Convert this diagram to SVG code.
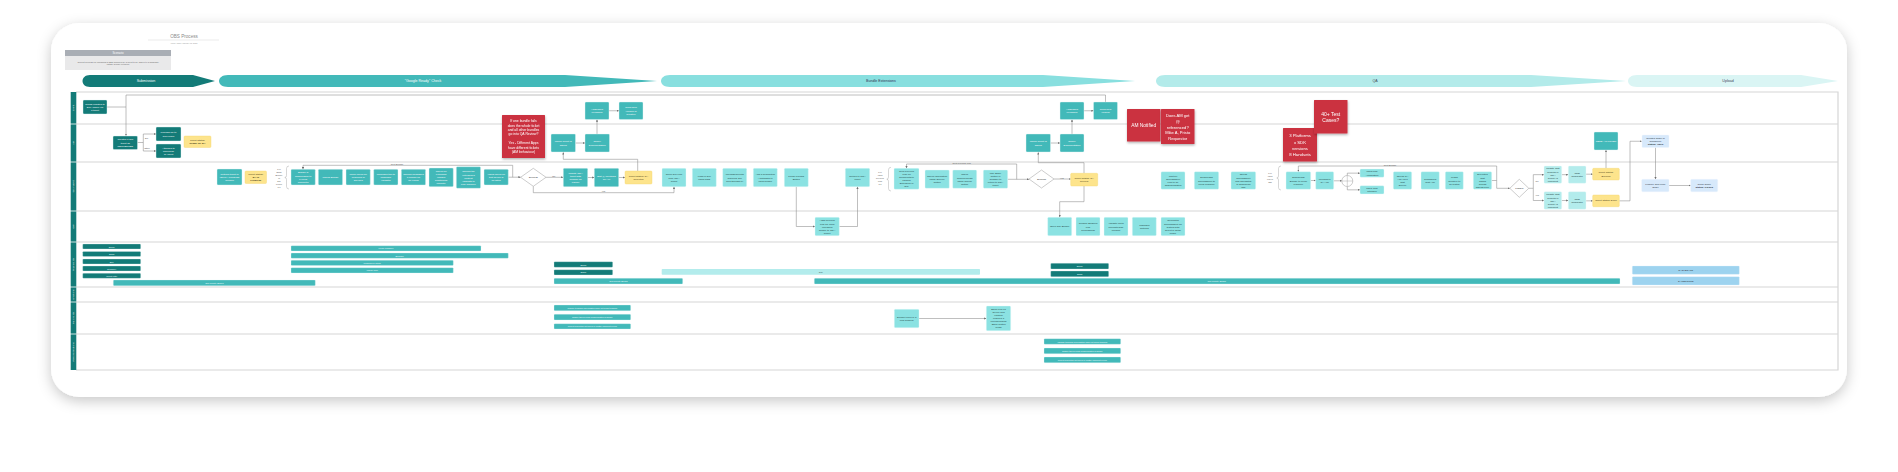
<svg xmlns="http://www.w3.org/2000/svg" width="1898" height="472" viewBox="0 0 1898 472">
<defs>
<filter id="cardsh" x="-5%" y="-10%" width="110%" height="125%"><feDropShadow dx="0" dy="4" stdDeviation="7" flood-color="#000" flood-opacity="0.22"/></filter>
<filter id="rsh" x="-20%" y="-20%" width="140%" height="150%"><feDropShadow dx="0.4" dy="1.4" stdDeviation="1" flood-color="#000" flood-opacity="0.3"/></filter>
<marker id="ah" viewBox="0 0 6 6" refX="6" refY="3" markerWidth="2.2" markerHeight="2.2" markerUnits="userSpaceOnUse" orient="auto"><path d="M0 0 L6 3 L0 6 Z" fill="#6f6f6f"/></marker>
<style>
text{font-family:"Liberation Sans",Arial,sans-serif;text-anchor:middle;dominant-baseline:central;font-size:2.5px}
.n1 rect{fill:#137b78;stroke:#dff2f2;stroke-width:.4}
.n1 text{fill:#fff}
.n2 rect{fill:#42b9b9;stroke:#e2f6f6;stroke-width:.4}
.n2 text{fill:#fff}
.n3 rect{fill:#8be2e2;stroke:#e6f9f9;stroke-width:.4}
.n3 text{fill:#234444}
.n4 rect{fill:#b3ecec;stroke:#eafafa;stroke-width:.4}
.n4 text{fill:#234444}
.ny rect{fill:#fde48c;stroke:#f5d670;stroke-width:.4}
.ny text{fill:#4a3f1a}
.nb rect{fill:#d7e9fb;stroke:#eef5fd;stroke-width:.4}
.nb text{fill:#2b3440}
.nr rect{fill:#cb3341}
.nr text{fill:#fff}
.dm polygon,.dm circle{fill:#fff;stroke:#9a9a9a;stroke-width:.5}
.dm text{fill:#333;font-size:2.4px}
.bar1 rect{fill:#137b78;stroke:#dff2f2;stroke-width:.3}
.bar1 text{fill:#e8ffff;font-size:2.3px}
.bar2 rect{fill:#42b9b9;stroke:#e2f6f6;stroke-width:.3}
.bar2 text{fill:#e8ffff;font-size:2.3px}
.bar3 rect{fill:#b3ecec}
.bar3 text{fill:#355;font-size:2.3px}
.bar4 rect{fill:#9dd3ef;stroke:#d8eefa;stroke-width:.3}
.bar4 text{fill:#334;font-size:2.3px}
.conn path{fill:none;stroke:#8a8a8a;stroke-width:.55}
.conn path.a{marker-end:url(#ah)}
.lbl{fill:#555;font-size:2.3px}
.lane{stroke:#d6d6d6;stroke-width:1.2;fill:none}
.lh rect{fill:#137b78}
.lh text{fill:#fff;font-size:2.4px}
.ph text{font-size:3.6px}
.brace{fill:none;stroke:#9a9a9a;stroke-width:.4}
</style>
</defs>
<rect width="1898" height="472" fill="#ffffff"/>
<rect x="51" y="23" width="1796" height="374" rx="28" fill="#ffffff" filter="url(#cardsh)"/>

<g id="title">
<text x="184" y="36" style="font-size:4.6px;fill:#8a8a8a">OBS Process</text>
<line x1="148" y1="40" x2="219" y2="40" stroke="#dedede" stroke-width=".6"/>
<text x="184" y="42.6" style="font-size:1.9px;fill:#9a9a9a">Lucid Admin  |  January 12, 2022</text>
</g>
<g id="scenario">
<rect x="65" y="50" width="106" height="6" fill="#a9aeb5"/>
<text x="118" y="53" style="font-size:2.8px;fill:#fff">Scenario</text>
<rect x="65" y="56" width="106" height="14" fill="#e9e9ea"/>
<text x="118" y="61.5" style="font-size:2.2px;fill:#666">Current process for uploading a OBC supplied by a client to be added to a language<tspan x="118" dy="2.9">(within Google network)</tspan></text>
</g>

<g id="phases" class="ph">
<g id="ph1"><path d="M90 75 L193 75 L215 81 L193 87 L90 87 C80 87 80 75 90 75 Z" fill="#137b78"/><text x="146" y="81" fill="#fff">Submission</text></g>
<g id="ph2"><path d="M228 75 L565 75 L657 81 L565 87 L228 87 C216 87 216 75 228 75 Z" fill="#42b9b9"/><text x="423" y="81" fill="#fff">"Google Ready" Check</text></g>
<g id="ph3"><path d="M670 75 L1043 75 L1135 81 L1043 87 L670 87 C658 87 658 75 670 75 Z" fill="#88dfdf"/><text x="881" y="81" fill="#335">Bundle Extensions</text></g>
<g id="ph4"><path d="M1165 75 L1531 75 L1626 81 L1531 87 L1165 87 C1153 87 1153 75 1165 75 Z" fill="#b3ebea"/><text x="1375" y="81" fill="#445">QA</text></g>
<g id="ph5"><path d="M1637 75 L1801 75 L1838 81 L1801 87 L1637 87 C1625 87 1625 75 1637 75 Z" fill="#daf5f4"/><text x="1728" y="81" fill="#445">Upload</text></g>
</g>

<g id="lanes">
<path class="lane" d="M76 92 H1838 V370 H76"/>
<path class="lane" d="M76 124 H1838 M76 162 H1838 M76 211 H1838 M76 242 H1838 M76 287 H1838 M76 302 H1838 M76 334 H1838"/>
<g class="lh">
<rect x="70.7" y="92" width="5.6" height="31.6"/><text transform="translate(73.5 108) rotate(-90)">Client</text>
<rect x="70.7" y="124.4" width="5.6" height="37.2"/><text transform="translate(73.5 143) rotate(-90)">AM</text>
<rect x="70.7" y="162.4" width="5.6" height="48.2"/><text transform="translate(73.5 186.5) rotate(-90)">QA Analyst</text>
<rect x="70.7" y="211.4" width="5.6" height="30.2"/><text transform="translate(73.5 226.5) rotate(-90)">OIP</text>
<rect x="70.7" y="242.4" width="5.6" height="44.2"/><text transform="translate(73.5 264.5) rotate(-90)">Touchpoints</text>
<rect x="70.7" y="287.4" width="5.6" height="14.2"/><text transform="translate(73.5 294.5) rotate(-90)">Emotions</text>
<rect x="70.7" y="302.4" width="5.6" height="31.2"/><text transform="translate(73.5 318) rotate(-90)">Pain points</text>
<rect x="70.7" y="334.4" width="5.6" height="35.6"/><text transform="translate(73.5 352) rotate(-90)">Possible solutions</text>
</g>
</g>

<g id="connectors" class="conn">
<path d="M106.7 107 H126"/>
<path class="a" d="M1105.5 102 V95 H126 V135.7"/>
<path class="a" d="M137.5 142.5 H143.3 V134 H156"/>
<path class="a" d="M143.3 142.5 V151 H156"/>
<path class="a" d="M508.3 177.2 H520.6"/>
<path class="a" d="M512.7 177.2 V165.3 H303 V169.3"/>
<path class="a" d="M546 177.3 H563.3"/>
<path class="a" d="M587.7 177.5 H594.3"/>
<path class="a" d="M618.7 177.5 H625"/>
<path class="a" d="M637.7 171 V159.3 H563.3 V152.3"/>
<path class="a" d="M575.5 143 H585"/>
<path class="a" d="M597 134 V119.5"/>
<path class="a" d="M609 110.75 H619"/>
<path class="a" d="M533.3 186.3 V192.7 H674 V186.7"/>
<path class="a" d="M796.3 186.7 V226.5 H815"/>
<path class="a" d="M839.3 226.5 H857.5 V186.7"/>
<path class="a" d="M1007.7 179.3 H1029"/>
<path class="a" d="M1016.7 179.3 V164 H906.5 V168.3"/>
<path class="a" d="M1054 179 H1070.7"/>
<path class="a" d="M1084 173.3 V162.7 H1038.3 V152.3"/>
<path class="a" d="M1084 186 V201.7 H1059.7 V217.3"/>
<path class="a" d="M1050.5 143 H1060"/>
<path class="a" d="M1072 134 V119.5"/>
<path class="a" d="M1084 110.75 H1093.5"/>
<path class="a" d="M1310.7 180.5 H1315.7"/>
<path class="a" d="M1333.7 180.8 H1341.8"/>
<path class="a" d="M1347.3 175.5 V173.15 H1360"/>
<path class="a" d="M1347.3 186.5 V189.85 H1360"/>
<path class="a" d="M1491.7 180.5 H1496.7 V188.3 H1509.8"/>
<path class="a" d="M1496.7 180.5 V166 H1298.35 V171.7"/>
<path class="a" d="M1528.8 188.3 H1533.3 V174.65 H1544"/>
<path class="a" d="M1533.3 188.3 V200.5 H1544"/>
<path class="a" d="M1561.7 174.65 H1568.3"/>
<path class="a" d="M1561.7 200.5 H1568.3"/>
<path class="a" d="M1586 174.2 H1592.7"/>
<path class="a" d="M1586 200.85 H1592.7"/>
<path class="a" d="M1606 168.3 V150"/>
<path class="a" d="M1619.3 200.85 H1630 V141.25 H1641.7"/>
<path class="a" d="M1655.5 147.5 V179.3"/>
<path class="a" d="M1669 185.5 H1690.7"/>
<path class="a" d="M919 318.5 H986.3"/>
</g>

<g id="labels">
<text class="lbl" x="146.5" y="137.6">ZIP</text>
<text class="lbl" x="147" y="147.6">Other</text>
<text class="lbl" x="397" y="164">Next Bundle</text>
<text class="lbl" x="553.8" y="176">No</text>
<text class="lbl" x="603.3" y="191.3">Yes</text>
<text class="lbl" x="961.7" y="162.8">Next Preview Link</text>
<text class="lbl" x="1061.7" y="177.8">Yes</text>
<text class="lbl" x="1390" y="164.8">Next Bundle</text>
<text class="lbl" x="1537" y="181">No</text>
<text class="lbl" x="1537" y="194.5">Yes</text>
<text class="lbl" x="279" y="168.5" style="font-size:2.2px">For<tspan x="279" dy="3">Each</tspan><tspan x="279" dy="3">Bundle</tspan><tspan x="279" dy="3">in</tspan><tspan x="279" dy="3">ZIP</tspan><tspan x="279" dy="3">Folder</tspan><tspan x="279" dy="3">1-7</tspan></text>
<text class="lbl" x="880" y="172" style="font-size:2.2px">For<tspan x="880" dy="3">each</tspan><tspan x="880" dy="3">Preview</tspan><tspan x="880" dy="3">Link</tspan><tspan x="880" dy="3">1-7</tspan></text>
<text class="lbl" x="1270" y="173" style="font-size:2.2px">For<tspan x="1270" dy="3">each</tspan><tspan x="1270" dy="3">row in</tspan><tspan x="1270" dy="3">Tab</tspan></text>
<path class="brace" d="M289 166 Q286.5 166 286.5 168.5 V175.5 Q286.5 177.5 284.8 177.5 Q286.5 177.5 286.5 179.5 V186.5 Q286.5 189 289 189"/>
<path class="brace" d="M891 167.3 Q888.5 167.3 888.5 169.8 V177 Q888.5 179.2 886.8 179.2 Q888.5 179.2 888.5 181.4 V188.5 Q888.5 191 891 191"/>
<path class="brace" d="M1281 166 Q1278.5 166 1278.5 168.5 V176 Q1278.5 178 1276.8 178 Q1278.5 178 1278.5 180 V187.5 Q1278.5 190 1281 190"/>
</g>

<g id="n-client1" class="n1"><rect x="83" y="100" width="24" height="14" rx="1"/><text x="95" y="104">Sends updates to<tspan x="95" dy="3">EIP / Office via</tspan><tspan x="95" dy="3">a ticket</tspan></text></g>
<g id="n-addr1" class="n2"><rect x="585" y="102" width="24" height="17.5" rx="1"/><text x="597" y="109.25">Addresses<tspan x="597" dy="3">Feedback</tspan></text></g>
<g id="n-send1" class="n2"><rect x="619" y="102" width="24" height="17.5" rx="1"/><text x="631" y="107.75">Send New<tspan x="631" dy="3">Version of</tspan><tspan x="631" dy="3">Creative</tspan></text></g>
<g id="n-addr2" class="n2"><rect x="1060" y="102" width="24" height="17.5" rx="1"/><text x="1072" y="109.25">Addresses<tspan x="1072" dy="3">Feedback</tspan></text></g>
<g id="n-send2" class="n2"><rect x="1093.5" y="102" width="24" height="17.5" rx="1"/><text x="1105.5" y="109.25">Send New<tspan x="1105.5" dy="3">Version</tspan></text></g>

<g id="n-jira" class="n1"><rect x="113" y="136" width="24.5" height="13.5" rx="1"/><text x="125.25" y="139.75">Creates a Jira<tspan x="125.25" dy="3">ticket as</tspan><tspan x="125.25" dy="3">REQUESTED</tspan></text></g>
<g id="n-upl" class="n1"><rect x="156" y="127" width="25" height="14" rx="1"/><text x="168.5" y="132.5">Uploads file to<tspan x="168.5" dy="3">Jira Folder</tspan></text></g>
<g id="n-att" class="n1"><rect x="156" y="144" width="25" height="14" rx="1"/><text x="168.5" y="148">Attaches to<tspan x="168.5" dy="3">wiki/email</tspan><tspan x="168.5" dy="3">by client</tspan></text></g>
<g id="n-ready" class="ny"><rect x="184" y="136" width="27" height="11.5" rx="1"/><text x="197.5" y="140.25">Ticket Status:<tspan x="197.5" dy="3" font-weight="bold">Ready for QA</tspan></text></g>

<g id="n-red1" class="nr" filter="url(#rsh)"><rect x="502" y="115" width="43" height="43" rx=".5"/><text x="523.5" y="121.1" style="font-size:3.4px">If one bundle fails<tspan x="523.5" dy="4.4">does the whole ticket</tspan><tspan x="523.5" dy="4.4">and all other bundles</tspan><tspan x="523.5" dy="4.4">go into QA Review?</tspan><tspan x="523.5" dy="8.8">Yes - Different Apps</tspan><tspan x="523.5" dy="4.4">have different tickets</tspan><tspan x="523.5" dy="4.4">(AM behaviour)</tspan></text></g>

<g id="n-inform1" class="n2"><rect x="551" y="134" width="24.5" height="18" rx="1"/><text x="563.25" y="141.5">Inform Client of<tspan x="563.25" dy="3">Issues</tspan></text></g>
<g id="n-supply1" class="n2"><rect x="585" y="134" width="24.5" height="18" rx="1"/><text x="597.25" y="141.5">Supply<tspan x="597.25" dy="3">Documentation</tspan></text></g>
<g id="n-inform2" class="n2"><rect x="1026" y="134" width="24.5" height="18" rx="1"/><text x="1038.25" y="141.5">Inform Client of<tspan x="1038.25" dy="3">Issues</tspan></text></g>
<g id="n-supply2" class="n2"><rect x="1060" y="134" width="24" height="18" rx="1"/><text x="1072" y="141.5">Supply<tspan x="1072" dy="3">Documentation</tspan></text></g>

<g id="n-red-am" class="nr" filter="url(#rsh)"><rect x="1127" y="109" width="33.5" height="32.5" rx=".5"/><text x="1143.75" y="125.25" style="font-size:4.8px">AM Notified</text></g>
<g id="n-red-does" class="nr" filter="url(#rsh)"><rect x="1161" y="109" width="33.5" height="35" rx=".5"/><text x="1177.75" y="115.5" style="font-size:4.1px">Does AM get<tspan x="1177.75" dy="5.5">@</tspan><tspan x="1177.75" dy="5.5">referenced?</tspan><tspan x="1177.75" dy="5.5">Mike A, Pristo</tspan><tspan x="1177.75" dy="5.5">Requestor</tspan></text></g>
<g id="n-red-3p" class="nr" filter="url(#rsh)"><rect x="1283" y="128" width="34" height="33.5" rx=".5"/><text x="1300" y="135.75" style="font-size:4.3px">3 Platforms<tspan x="1300" dy="6">x SDK</tspan><tspan x="1300" dy="6">versions</tspan><tspan x="1300" dy="6">8 Handsets</tspan></text></g>
<g id="n-red-40" class="nr" filter="url(#rsh)"><rect x="1314" y="100" width="33.5" height="33.5" rx=".5"/><text x="1330.75" y="113.5" style="font-size:5px">40+ Test<tspan x="1330.75" dy="6.5">Cases?</tspan></text></g>

<g id="n-email-ac" class="n2"><rect x="1594" y="132" width="24" height="18" rx="1"/><text x="1606" y="141">SEND AC TICKET</text></g>
<g id="n-create-order" class="nb"><rect x="1642" y="135" width="27" height="12.5" rx="1"/><text x="1655.5" y="138.25">Creates Order in<tspan x="1655.5" dy="3">Salesforce</tspan><tspan x="1655.5" dy="3" font-weight="bold">Status: Open</tspan></text></g>

<g id="n-returns" class="n2"><rect x="217" y="169" width="25" height="16" rx="1"/><text x="229.5" y="174">Returns ticket to<tspan x="229.5" dy="3">'Open' / 'Progress'</tspan><tspan x="229.5" dy="3">Column</tspan></text></g>
<g id="n-qaip" class="ny"><rect x="245" y="171" width="21.5" height="12.5" rx="1"/><text x="255.75" y="174.25">Ticket Status:<tspan x="255.75" dy="3" font-weight="bold">QA In</tspan><tspan x="255.75" dy="3" font-weight="bold">Progress</tspan></text></g>

<g id="n-l1a" class="n2"><rect x="291" y="169.3" width="24.3" height="15.7" rx="1"/><text x="303.15" y="172.65">Bundle is<tspan x="303.15" dy="3">downloaded to</tspan><tspan x="303.15" dy="3">a Local</tspan><tspan x="303.15" dy="3">Computer</tspan></text></g>
<g id="n-l1b" class="n2"><rect x="318.3" y="169.3" width="24.3" height="15.7" rx="1"/><text x="330.45" y="177.15">Unzips Bundle</text></g>
<g id="n-l1c" class="n2"><rect x="346" y="169.3" width="24.3" height="15.7" rx="1"/><text x="358.15" y="174.15">Unzip check for<tspan x="358.15" dy="3">problems in</tspan><tspan x="358.15" dy="3">ZIP files</tspan></text></g>
<g id="n-l1d" class="n2"><rect x="373.7" y="169.3" width="24.3" height="15.7" rx="1"/><text x="385.85" y="174.15">Launches tool to<tspan x="385.85" dy="3">Unbundle</tspan><tspan x="385.85" dy="3">Validator</tspan></text></g>
<g id="n-l1e" class="n2"><rect x="401.3" y="169.3" width="24.3" height="15.7" rx="1"/><text x="413.45" y="174.15">Checks messages<tspan x="413.45" dy="3">&amp; bundle for</tspan><tspan x="413.45" dy="3">SL errors</tspan></text></g>
<g id="n-l1f" class="n2"><rect x="429" y="168" width="24.3" height="18.7" rx="1"/><text x="441.15" y="171.35">Check for<tspan x="441.15" dy="3">extension</tspan><tspan x="441.15" dy="3">images</tspan><tspan x="441.15" dy="3">functioning</tspan><tspan x="441.15" dy="3">correctly</tspan></text></g>
<g id="n-l1g" class="n2"><rect x="456.3" y="166.7" width="24.3" height="21.6" rx="1"/><text x="468.45" y="171.5">Checks the<tspan x="468.45" dy="3">extension's</tspan><tspan x="468.45" dy="3">content</tspan><tspan x="468.45" dy="3">(submits to</tspan><tspan x="468.45" dy="3">Play Tracker)</tspan></text></g>
<g id="n-l1h" class="n2"><rect x="484" y="169.3" width="24.3" height="15.7" rx="1"/><text x="496.15" y="174.15">Visual check on<tspan x="496.15" dy="3">test device is</tspan><tspan x="496.15" dy="3">as listed</tspan></text></g>
<g id="n-success1" class="dm"><polygon points="520.6,177.3 533.3,168.3 546,177.3 533.3,186.3"/><text x="533.3" y="177.3">Success</text></g>

<g id="n-update-jira" class="n2"><rect x="563.3" y="168.3" width="24.4" height="18.4" rx="1"/><text x="575.5" y="173">Update JIRA<tspan x="575.5" dy="3">ticket with</tspan><tspan x="575.5" dy="3">Reason for</tspan><tspan x="575.5" dy="3">Failure</tspan></text></g>
<g id="n-edit" class="n2"><rect x="594.3" y="168.3" width="24.4" height="18.4" rx="1"/><text x="606.5" y="176">Edit @ mentions<tspan x="606.5" dy="3">for AM</tspan></text></g>
<g id="n-rejected" class="ny"><rect x="625" y="171" width="27" height="13" rx="1"/><text x="638.5" y="176">Ticket Status: QA<tspan x="638.5" dy="3">Rejected</tspan></text></g>

<g id="n-open-oip" class="n3"><rect x="662" y="168.3" width="24" height="18.4" rx="1"/><text x="674" y="174.5">Open OIP Link<tspan x="674" dy="3">from JIRA</tspan><tspan x="674" dy="3">Ticket</tspan></text></g>
<g id="n-login" class="n3"><rect x="692.3" y="168.3" width="24" height="18.4" rx="1"/><text x="704.3" y="176">Logs in OIP<tspan x="704.3" dy="3">using SSO</tspan></text></g>
<g id="n-uploads" class="n3"><rect x="722.7" y="168.3" width="24" height="18.4" rx="1"/><text x="734.7" y="174.5">Uploads/Selects<tspan x="734.7" dy="3">Supplied ZIP</tspan><tspan x="734.7" dy="3">files through UI</tspan></text></g>
<g id="n-desc" class="n3"><rect x="753.3" y="168.3" width="24" height="18.4" rx="1"/><text x="765.3" y="174.5">Add a description<tspan x="765.3" dy="3">/ metadata to</tspan><tspan x="765.3" dy="3">each bundle</tspan></text></g>
<g id="n-press" class="n3"><rect x="784.3" y="168.3" width="24" height="18.4" rx="1"/><text x="796.3" y="176">Press 'Upload'<tspan x="796.3" dy="3">Button</tspan></text></g>
<g id="n-adds" class="n3"><rect x="815" y="217.3" width="24.3" height="18.4" rx="1"/><text x="827.15" y="220.5">Adds Preview<tspan x="827.15" dy="3">Link for each</tspan><tspan x="827.15" dy="3">uploaded</tspan><tspan x="827.15" dy="3">bundle to JIRA</tspan><tspan x="827.15" dy="3">Ticket</tspan></text></g>
<g id="n-return" class="n3"><rect x="845.3" y="168.3" width="24.4" height="18.4" rx="1"/><text x="857.5" y="176">Return to JIRA<tspan x="857.5" dy="3">ticket</tspan></text></g>
<g id="n-l2a" class="n3"><rect x="894" y="168.3" width="25" height="21" rx="1"/><text x="906.5" y="171.3">Click Preview<tspan x="906.5" dy="3">Link on</tspan><tspan x="906.5" dy="3">Comments to</tspan><tspan x="906.5" dy="3">Launch</tspan><tspan x="906.5" dy="3">Extension in</tspan><tspan x="906.5" dy="3">OIP</tspan></text></g>
<g id="n-l2b" class="n3"><rect x="925" y="170" width="24.3" height="18.3" rx="1"/><text x="937.15" y="176.15">Check information<tspan x="937.15" dy="3">using 'Device'</tspan><tspan x="937.15" dy="3">button</tspan></text></g>
<g id="n-l2c" class="n3"><rect x="952.7" y="170" width="24" height="18.3" rx="1"/><text x="964.7" y="174.65">Check<tspan x="964.7" dy="3">Requirements</tspan><tspan x="964.7" dy="3">using 'Specs'</tspan><tspan x="964.7" dy="3">button</tspan></text></g>
<g id="n-l2d" class="n3"><rect x="983.3" y="170" width="24.4" height="18.3" rx="1"/><text x="995.5" y="173.15">Use 'Back'<tspan x="995.5" dy="3">button in</tspan><tspan x="995.5" dy="3">browser to</tspan><tspan x="995.5" dy="3">return to JIRA</tspan><tspan x="995.5" dy="3">ticket</tspan></text></g>
<g id="n-success2" class="dm"><polygon points="1029,179 1041.5,170 1054,179 1041.5,188"/><text x="1041.5" y="179">Success</text></g>
<g id="n-review" class="ny"><rect x="1070.7" y="173.3" width="27" height="12.7" rx="1"/><text x="1084.2" y="178.15">Ticket Status: QA<tspan x="1084.2" dy="3">Review</tspan></text></g>

<g id="n-open-bundle" class="n3"><rect x="1047.7" y="217.3" width="24" height="18.4" rx="1"/><text x="1059.7" y="226.5">Open OIP Bundle</text></g>
<g id="n-confirm" class="n3"><rect x="1076" y="217.3" width="24" height="18.4" rx="1"/><text x="1088" y="223.5">Confirm Enabled<tspan x="1088" dy="3">Link</tspan><tspan x="1088" dy="3">Permissions</tspan></text></g>
<g id="n-validate" class="n3"><rect x="1104" y="217.3" width="24" height="18.4" rx="1"/><text x="1116" y="223.5">Validate Meta<tspan x="1116" dy="3">populate/SSL</tspan><tspan x="1116" dy="3">present</tspan></text></g>
<g id="n-manages" class="n3"><rect x="1132.3" y="217.3" width="24" height="18.4" rx="1"/><text x="1144.3" y="225">Manages<tspan x="1144.3" dy="3">Returns</tspan></text></g>
<g id="n-generates" class="n3"><rect x="1161" y="217.3" width="24" height="18.4" rx="1"/><text x="1173" y="220.5">Generates<tspan x="1173" dy="3">Spreadsheet for</tspan><tspan x="1173" dy="3">testers with</tspan><tspan x="1173" dy="3">select in detail</tspan><tspan x="1173" dy="3">folder</tspan></text></g>

<g id="n-wait" class="n3"><rect x="1161" y="171.7" width="24" height="17.6" rx="1"/><text x="1173" y="176">Wait for<tspan x="1173" dy="3">Spreadsheet</tspan><tspan x="1173" dy="3">Link to be</tspan><tspan x="1173" dy="3">added/updated</tspan></text></g>
<g id="n-download-sheet" class="n3"><rect x="1194.3" y="171.7" width="24.4" height="17.6" rx="1"/><text x="1206.5" y="177.5">Downloads<tspan x="1206.5" dy="3">Spreadsheet to</tspan><tspan x="1206.5" dy="3">Local Machine</tspan></text></g>
<g id="n-opens-sheet" class="n3"><rect x="1231" y="171.7" width="24.7" height="17.6" rx="1"/><text x="1243.35" y="174.5">Opens<tspan x="1243.35" dy="3">Spreadsheet</tspan><tspan x="1243.35" dy="3">and Navigates</tspan><tspan x="1243.35" dy="3">to Download</tspan><tspan x="1243.35" dy="3">Tab</tspan></text></g>
<g id="n-l3a" class="n3"><rect x="1286" y="171.7" width="24.7" height="17.6" rx="1"/><text x="1298.35" y="177.5">Downloads<tspan x="1298.35" dy="3">Bundle to Local</tspan><tspan x="1298.35" dy="3">Machine</tspan></text></g>
<g id="n-l3b" class="n3"><rect x="1315.7" y="171.7" width="18" height="17.6" rx="1"/><text x="1324.7" y="179">Uploads to<tspan x="1324.7" dy="3">QA App</tspan></text></g>
<g id="n-gate" class="dm"><circle cx="1347.3" cy="181" r="5.5"/><path d="M1341.8 181 H1352.8 M1347.3 175.5 V186.5" stroke="#9a9a9a" stroke-width=".4"/></g>
<g id="n-mac" class="n3"><rect x="1360" y="169" width="24" height="8.3" rx="1"/><text x="1372" y="171.75">Uses Mac<tspan x="1372" dy="2.8">Automation</tspan></text></g>
<g id="n-web" class="n3"><rect x="1360" y="185.7" width="24" height="8.3" rx="1"/><text x="1372" y="188.45">Uses Web<tspan x="1372" dy="2.8">Interface</tspan></text></g>
<g id="n-l3d" class="n3"><rect x="1393.3" y="171.7" width="18.4" height="17.6" rx="1"/><text x="1402.5" y="176">Opens QA<tspan x="1402.5" dy="3">App via a</tspan><tspan x="1402.5" dy="3">Test</tspan><tspan x="1402.5" dy="3">Device</tspan></text></g>
<g id="n-l3e" class="n3"><rect x="1421" y="171.7" width="18.3" height="17.6" rx="1"/><text x="1430.15" y="179">Configures<tspan x="1430.15" dy="3">Test App</tspan></text></g>
<g id="n-l3f" class="n3"><rect x="1445.3" y="171.7" width="18" height="17.6" rx="1"/><text x="1454.3" y="177.5">Loads<tspan x="1454.3" dy="3">Creative to</tspan><tspan x="1454.3" dy="3">be tested</tspan></text></g>
<g id="n-l3g" class="n3"><rect x="1473.3" y="171.7" width="18.4" height="17.6" rx="1"/><text x="1482.5" y="174.5">Executes<tspan x="1482.5" dy="3">Test</tspan><tspan x="1482.5" dy="3">Cases</tspan><tspan x="1482.5" dy="3">across</tspan><tspan x="1482.5" dy="3">SDK/Device</tspan></text></g>
<g id="n-passed" class="dm"><polygon points="1509.8,188.3 1519.3,179.3 1528.8,188.3 1519.3,197.3"/><text x="1519.3" y="188.3">Passed</text></g>

<g id="n-upd-no" class="n4"><rect x="1544" y="166" width="17.7" height="17.3" rx="1"/><text x="1552.85" y="168.65">Update Test<tspan x="1552.85" dy="3">Results in</tspan><tspan x="1552.85" dy="3">JIRA</tspan><tspan x="1552.85" dy="3">Ticket/Ad</tspan><tspan x="1552.85" dy="3">comment</tspan></text></g>
<g id="n-upd-yes" class="n4"><rect x="1544" y="191.7" width="17.7" height="17.6" rx="1"/><text x="1552.85" y="194.5">Update Test<tspan x="1552.85" dy="3">Results in</tspan><tspan x="1552.85" dy="3">JIRA</tspan><tspan x="1552.85" dy="3">Ticket/Ad</tspan><tspan x="1552.85" dy="3">comment</tspan></text></g>
<g id="n-tags1" class="n4"><rect x="1568.3" y="166" width="17.7" height="17.3" rx="1"/><text x="1577.15" y="173.15">Tags<tspan x="1577.15" dy="3">Requester</tspan></text></g>
<g id="n-tags2" class="n4"><rect x="1568.3" y="191.7" width="17.7" height="17.6" rx="1"/><text x="1577.15" y="199">Tags<tspan x="1577.15" dy="3">Requester</tspan></text></g>
<g id="n-blocked" class="ny"><rect x="1592.7" y="168.3" width="26.6" height="11.7" rx="1"/><text x="1606" y="172.65">Ticket Status:<tspan x="1606" dy="3">Blocked</tspan></text></g>
<g id="n-done" class="ny"><rect x="1592.7" y="195" width="26.6" height="11.7" rx="1"/><text x="1606" y="200.85">Ticket Status: Done</text></g>
<g id="n-finalize" class="nb"><rect x="1641.7" y="179.3" width="27.3" height="12.4" rx="1"/><text x="1655.35" y="184">Finalize and Fulfill<tspan x="1655.35" dy="3">Order</tspan></text></g>
<g id="n-close" class="nb"><rect x="1690.7" y="179.3" width="27" height="12.4" rx="1"/><text x="1704.2" y="184">Close Order<tspan x="1704.2" dy="3" font-weight="bold">Status: Closed</tspan></text></g>

<g id="touchpoints">
<g class="bar1"><rect x="82.7" y="244" width="58" height="5" rx=".8"/><text x="111.7" y="246.5">Email</text></g>
<g class="bar1"><rect x="82.7" y="251.5" width="58" height="5" rx=".8"/><text x="111.7" y="254">Slack</text></g>
<g class="bar1"><rect x="82.7" y="259" width="58" height="5" rx=".8"/><text x="111.7" y="261.5">Box</text></g>
<g class="bar1"><rect x="82.7" y="266" width="58" height="5" rx=".8"/><text x="111.7" y="268.5">Dropbox</text></g>
<g class="bar1"><rect x="82.7" y="273.3" width="58" height="5" rx=".8"/><text x="111.7" y="275.8">Client Intel</text></g>
<g class="bar2"><rect x="113.3" y="280" width="202" height="5.7" rx=".8"/><text x="214.3" y="282.85">Jira Priority Board</text></g>
<g class="bar2"><rect x="291" y="245.7" width="190" height="5.3" rx=".8"/><text x="386" y="248.35">Local Machine</text></g>
<g class="bar2"><rect x="291" y="253" width="217.3" height="5.3" rx=".8"/><text x="399.65" y="255.65">Browser</text></g>
<g class="bar2"><rect x="291" y="260.3" width="162.3" height="5.3" rx=".8"/><text x="372.15" y="262.95">Unarchiver Tools</text></g>
<g class="bar2"><rect x="291" y="267.7" width="162.3" height="5.3" rx=".8"/><text x="372.15" y="270.35">Image Tool</text></g>
<g class="bar1"><rect x="554" y="261.7" width="58.7" height="5.6" rx=".8"/><text x="583.35" y="264.5">Email</text></g>
<g class="bar1"><rect x="554" y="269.7" width="58.7" height="5.3" rx=".8"/><text x="583.35" y="272.35">Slack</text></g>
<g class="bar2"><rect x="554" y="278.3" width="128.7" height="5.7" rx=".8"/><text x="618.35" y="281.15">Jira Priority Board</text></g>
<g class="bar3"><rect x="661.7" y="269" width="318.3" height="5.7" rx=".8"/><text x="820.85" y="271.85">OIP</text></g>
<g class="bar2"><rect x="814.3" y="278.3" width="805.7" height="5.7" rx=".8"/><text x="1216.7" y="281.15">Jira Priority Board</text></g>
<g class="bar1"><rect x="1050.7" y="263.3" width="58" height="5.7" rx=".8"/><text x="1079.7" y="266.15">Email</text></g>
<g class="bar1"><rect x="1050.7" y="271" width="58" height="5.7" rx=".8"/><text x="1079.7" y="273.85">Slack</text></g>
<g class="bar4"><rect x="1632.3" y="266" width="107" height="8.3" rx=".8"/><text x="1685.8" y="270.15">DASHBOARD</text></g>
<g class="bar4"><rect x="1632.3" y="276.7" width="107" height="8.3" rx=".8"/><text x="1685.8" y="280.85">SALESFORCE</text></g>
</g>

<g id="painpoints">
<g class="bar2"><rect x="554" y="305" width="76.7" height="5.7" rx=".8"/><text x="592.35" y="307.85" style="font-size:2px">Reduce technical conversation while not being technical</text></g>
<g class="bar2"><rect x="554" y="314.3" width="76.7" height="5.7" rx=".8"/><text x="592.35" y="317.15" style="font-size:2px">Ensure there's clear communication is shown</text></g>
<g class="bar2"><rect x="554" y="323.7" width="76.7" height="5.3" rx=".8"/><text x="592.35" y="326.35" style="font-size:2px">Collect Properties not mixed in lengthy comment cycles</text></g>
<g id="n-newwin" class="n3"><rect x="894.3" y="309.3" width="24.7" height="18.4" rx="1"/><text x="906.65" y="317">Doesn't open in a<tspan x="906.65" dy="3">new window</tspan></text></g>
<g id="n-eachclick" class="n3"><rect x="986.3" y="306" width="24.4" height="24.7" rx="1"/><text x="998.5" y="309.35">Each click on<tspan x="998.5" dy="3">device and</tspan><tspan x="998.5" dy="3">rotation</tspan><tspan x="998.5" dy="3">requires a</tspan><tspan x="998.5" dy="3">corresponding</tspan><tspan x="998.5" dy="3">'Back' button</tspan><tspan x="998.5" dy="3">press</tspan></text></g>
</g>

<g id="solutions">
<g class="bar2"><rect x="1044" y="338.7" width="76.7" height="5.6" rx=".8"/><text x="1082.35" y="341.5" style="font-size:2px">Manage technical conversation while not being technical</text></g>
<g class="bar2"><rect x="1044" y="348" width="76.7" height="5.7" rx=".8"/><text x="1082.35" y="350.85" style="font-size:2px">Ensure there's clear communication is shown</text></g>
<g class="bar2"><rect x="1044" y="357" width="76.7" height="5.7" rx=".8"/><text x="1082.35" y="359.85" style="font-size:2px">Collect Properties not mixed in lengthy comment cycles</text></g>
</g>
</svg>
